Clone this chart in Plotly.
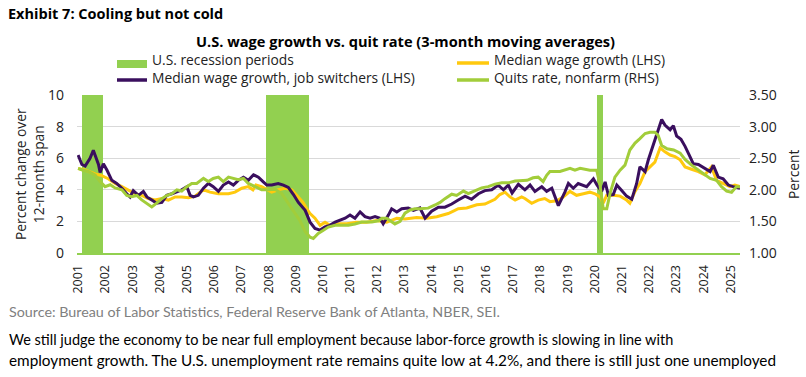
import plotly.graph_objects as go

# ---------------- data ----------------
years = list(range(2001, 2026))
year_labels = [str(y) for y in years]

recession_start = [2001.15, 2007.90, 2020.07]
recession_end = [2001.92, 2009.49, 2020.31]

switch_t = [2001.00, 2001.14, 2001.26, 2001.44, 2001.56, 2001.75, 2001.81, 2001.93, 2002.06, 2002.24,
            2002.42, 2002.61, 2002.79, 2002.91, 2003.03, 2003.22, 2003.40, 2003.53, 2003.71, 2003.89,
            2004.08, 2004.26, 2004.45, 2004.63, 2004.81, 2005.00, 2005.12, 2005.24, 2005.42, 2005.61,
            2005.79, 2005.97, 2006.16, 2006.34, 2006.53, 2006.71, 2006.89, 2007.08, 2007.26, 2007.45,
            2007.63, 2007.81, 2007.94, 2008.12, 2008.36, 2008.55, 2008.73, 2008.92, 2009.10, 2009.35,
            2009.53, 2009.71, 2009.90, 2010.08, 2010.26, 2010.45, 2010.63, 2010.82, 2011.00, 2011.18,
            2011.37, 2011.55, 2011.74, 2011.92, 2012.10, 2012.22, 2012.41, 2012.53, 2012.72, 2012.90,
            2013.14, 2013.33, 2013.57, 2013.76, 2014.00, 2014.25, 2014.49, 2014.74, 2014.98, 2015.23,
            2015.47, 2015.72, 2015.96, 2016.21, 2016.45, 2016.64, 2016.82, 2016.96, 2017.19, 2017.43,
            2017.62, 2017.80, 2018.05, 2018.23, 2018.42, 2018.54, 2018.66, 2018.90, 2019.03, 2019.21,
            2019.39, 2019.70, 2019.95, 2020.08, 2020.25, 2020.38, 2020.50, 2020.68, 2020.81, 2020.99,
            2021.17, 2021.36, 2021.54, 2021.66, 2021.85, 2021.97, 2022.09, 2022.25, 2022.46, 2022.58,
            2022.77, 2022.89, 2023.01, 2023.17, 2023.32, 2023.50, 2023.62, 2023.81, 2024.05, 2024.24,
            2024.36, 2024.54, 2024.72, 2024.91, 2025.09, 2025.34]
switch_v = [6.2, 5.6, 5.5, 6.0, 6.5, 5.6, 5.1, 5.65, 5.25, 4.6,
            4.4, 4.1, 3.75, 3.55, 3.95, 3.65, 3.9, 3.55, 3.35, 3.15,
            3.2, 3.65, 3.75, 3.85, 4.0, 4.2, 3.65, 3.55, 3.65, 4.1,
            4.4, 4.2, 3.9, 4.3, 4.5, 4.3, 4.6, 4.8, 4.6, 4.95,
            4.8, 4.5, 4.3, 4.3, 4.4, 4.3, 4.15, 3.7, 3.2, 2.7,
            1.95, 1.55, 1.45, 1.65, 1.75, 1.95, 2.05, 2.2, 2.4, 2.2,
            2.6, 2.3, 2.2, 2.3, 2.2, 1.85, 2.4, 2.8, 2.6, 2.8,
            2.85, 2.7, 2.85, 2.2, 2.65, 2.9, 2.9, 3.1, 3.35, 3.6,
            3.4, 3.75, 3.95, 4.0, 4.3, 4.0, 4.3, 3.8, 4.35, 4.0,
            4.3, 3.9, 4.2, 3.9, 4.1, 3.6, 3.0, 3.85, 4.4, 4.1,
            4.4, 4.2, 4.7, 4.3, 3.9, 4.5, 3.65, 3.7, 4.3, 3.95,
            3.6, 3.4, 4.4, 5.45, 5.15, 5.9, 6.5, 7.4, 8.45, 8.1,
            7.8, 8.05, 7.4, 7.2, 6.75, 6.1, 5.65, 5.6, 5.35, 5.15,
            5.55, 4.8, 4.7, 4.3, 4.2, 4.1]

median_t = [2001.00, 2001.26, 2001.63, 2001.87, 2002.11, 2002.36, 2002.61, 2002.85, 2003.10, 2003.34,
            2003.58, 2003.83, 2004.08, 2004.32, 2004.57, 2004.81, 2005.06, 2005.30, 2005.61, 2005.85,
            2006.16, 2006.53, 2006.77, 2007.02, 2007.26, 2007.43, 2007.54, 2007.75, 2007.94, 2008.12,
            2008.36, 2008.61, 2008.86, 2009.10, 2009.27, 2009.41, 2009.53, 2009.71, 2009.90, 2010.08,
            2010.26, 2010.57, 2010.88, 2011.24, 2011.61, 2011.98, 2012.35, 2012.72, 2013.02, 2013.45,
            2013.82, 2014.19, 2014.43, 2014.61, 2014.80, 2014.98, 2015.29, 2015.66, 2015.96, 2016.33,
            2016.51, 2016.70, 2016.88, 2017.07, 2017.31, 2017.43, 2017.68, 2017.92, 2018.16, 2018.35,
            2018.60, 2018.84, 2019.09, 2019.33, 2019.58, 2019.82, 2020.01, 2020.19, 2020.31, 2020.44,
            2020.68, 2020.93, 2021.17, 2021.29, 2021.48, 2021.66, 2021.85, 2022.03, 2022.21, 2022.40,
            2022.58, 2022.77, 2022.95, 2023.14, 2023.32, 2023.56, 2023.81, 2024.05, 2024.29, 2024.48,
            2024.72, 2024.97, 2025.15, 2025.34]
median_v = [5.35, 5.25, 5.0, 4.9, 4.7, 4.4, 4.2, 4.0, 3.75, 3.65,
            3.45, 3.35, 3.45, 3.35, 3.55, 3.55, 3.5, 3.6, 4.0, 3.85,
            3.75, 3.75, 3.85, 4.1, 4.2, 4.0, 4.3, 4.2, 4.0, 3.85,
            4.0, 4.1, 4.0, 3.55, 3.2, 2.8, 2.5, 2.2, 1.75, 1.95,
            1.75, 1.85, 1.85, 1.95, 1.95, 2.05, 1.95, 2.2, 2.15, 2.25,
            2.2, 2.3, 2.4, 2.5, 2.65, 2.8, 2.85, 3.05, 3.1, 3.4,
            3.7, 3.85, 3.55, 3.35, 3.55, 3.45, 3.15, 3.35, 3.45, 3.25,
            3.3, 3.55, 3.9, 3.65, 3.75, 3.85, 3.75, 3.55, 3.15, 3.65,
            3.65, 3.6, 3.35, 3.15, 3.9, 4.4, 5.15, 5.45, 5.75, 6.65,
            6.4, 6.2, 6.1, 5.9, 5.45, 5.3, 5.15, 4.95, 5.45, 4.6,
            4.4, 4.2, 4.3, 4.2]

quits_t = [2001.00, 2001.18, 2001.38, 2001.63, 2001.81, 2001.99, 2002.18, 2002.36, 2002.61, 2002.79,
           2002.97, 2003.16, 2003.34, 2003.53, 2003.71, 2003.89, 2004.08, 2004.26, 2004.45, 2004.63,
           2004.81, 2005.00, 2005.18, 2005.36, 2005.61, 2005.79, 2005.97, 2006.16, 2006.34, 2006.53,
           2006.71, 2006.89, 2007.08, 2007.26, 2007.51, 2007.75, 2008.00, 2008.24, 2008.49, 2008.73,
           2008.98, 2009.16, 2009.35, 2009.53, 2009.65, 2009.83, 2010.02, 2010.20, 2010.45, 2010.69,
           2010.94, 2011.18, 2011.43, 2011.61, 2011.80, 2012.04, 2012.17, 2012.35, 2012.53, 2012.65,
           2012.84, 2013.02, 2013.21, 2013.39, 2013.57, 2013.87, 2014.13, 2014.31, 2014.49, 2014.74,
           2014.92, 2015.17, 2015.35, 2015.60, 2015.84, 2016.08, 2016.33, 2016.58, 2016.82, 2017.07,
           2017.31, 2017.51, 2017.73, 2017.92, 2018.10, 2018.23, 2018.35, 2018.72, 2019.09, 2019.27,
           2019.46, 2019.82, 2020.07, 2020.19, 2020.31, 2020.44, 2020.56, 2020.74, 2020.93, 2021.11,
           2021.29, 2021.48, 2021.66, 2021.85, 2022.03, 2022.21, 2022.33, 2022.46, 2022.66, 2022.90,
           2023.14, 2023.32, 2023.56, 2023.81, 2024.05, 2024.24, 2024.48, 2024.66, 2024.85, 2025.03,
           2025.21, 2025.34]
quits_v = [2.34, 2.31, 2.29, 2.23, 2.13, 2.05, 2.08, 2.03, 2.00, 1.91,
           1.89, 1.91, 1.84, 1.79, 1.73, 1.79, 1.86, 1.91, 1.94, 2.00,
           1.98, 2.05, 2.10, 2.10, 2.18, 2.13, 2.18, 2.20, 2.13, 2.20,
           2.18, 2.16, 2.18, 2.10, 2.05, 2.00, 2.00, 2.01, 1.94, 1.79,
           1.63, 1.51, 1.34, 1.25, 1.23, 1.31, 1.36, 1.41, 1.44, 1.44,
           1.44, 1.46, 1.49, 1.49, 1.49, 1.51, 1.55, 1.55, 1.49, 1.46,
           1.50, 1.63, 1.68, 1.70, 1.70, 1.71, 1.76, 1.80, 1.86, 1.93,
           1.91, 1.98, 1.94, 1.99, 2.03, 2.05, 2.09, 2.11, 2.11, 2.14,
           2.14, 2.15, 2.19, 2.20, 2.13, 2.23, 2.29, 2.29, 2.34, 2.31,
           2.34, 2.31, 2.31, 2.08, 1.70, 1.70, 1.94, 2.20, 2.31, 2.39,
           2.63, 2.74, 2.81, 2.89, 2.91, 2.91, 2.86, 2.70, 2.65, 2.63,
           2.58, 2.48, 2.39, 2.31, 2.24, 2.18, 2.15, 2.05, 1.98, 1.96,
           2.05, 2.05]

# ---------------- styling ----------------
REC_GREEN = "#92D050"
QUIT_GREEN = "#A2CD3A"
YELLOW = "#FFC90E"
PURPLE = "#3A0F5E"
FONT = "Open Sans"
NARROW = "Liberation Sans Narrow, Lato"
W, H = 806, 377
L, R, T, B = 77, 740, 95, 253


def px(x):
    return (x - L) / (R - L)


def py(y):
    return (B - y) / (B - T)


rec_mid = [(s + e) / 2 for s, e in zip(recession_start, recession_end)]
rec_w = [e - s for s, e in zip(recession_start, recession_end)]

fig = go.Figure()
fig.add_trace(go.Bar(x=rec_mid, y=[10] * len(rec_mid), width=rec_w,
                     marker=dict(color=REC_GREEN, line=dict(width=0)),
                     name="U.S. recession periods", showlegend=False, hoverinfo="skip"))
fig.add_trace(go.Scatter(x=median_t, y=median_v, mode="lines",
                         line=dict(color=YELLOW, width=3), name="Median wage growth (LHS)",
                         showlegend=False))
fig.add_trace(go.Scatter(x=switch_t, y=switch_v, mode="lines",
                         line=dict(color=PURPLE, width=3), name="Median wage growth, job switchers (LHS)",
                         showlegend=False))
fig.add_trace(go.Scatter(x=quits_t, y=quits_v, mode="lines", yaxis="y2",
                         line=dict(color=QUIT_GREEN, width=3), name="Quits rate, nonfarm (RHS)",
                         showlegend=False))

fig.update_layout(
    width=W, height=H,
    margin=dict(l=L, r=W - R, t=T, b=H - B, pad=0),
    paper_bgcolor="white", plot_bgcolor="white",
    font=dict(family=FONT, size=13, color="#222222"),
    bargap=0,
    xaxis=dict(range=[2000.96, 2025.34], tickvals=years, ticktext=year_labels,
               tickangle=-90, showgrid=False, zeroline=False, ticks="",
               showline=True, linecolor=REC_GREEN, linewidth=2, ticklabelstandoff=5,
               tickfont=dict(size=12.5, color="#222222")),
    yaxis=dict(range=[0, 10], dtick=2, showgrid=True, gridcolor="#D9D9D9", gridwidth=1,
               zeroline=False, ticks="", tickfont=dict(size=14, color="#222222"),
               showline=False, ticklabelstandoff=12),
    yaxis2=dict(range=[1, 3.5], dtick=0.5, tickformat=".2f", overlaying="y", side="right",
                showgrid=False, zeroline=False, ticks="", tickfont=dict(size=14, color="#222222"),
                showline=False, ticklabelstandoff=8),
)

ann = []
ann.append(dict(text="<b>Exhibit 7: Cooling but not cold</b>", x=px(6), y=py(14),
                xanchor="left", yanchor="middle", font=dict(size=14.5, color="black")))
ann.append(dict(text="<b>U.S. wage growth vs. quit rate (3-month moving averages)</b>",
                x=px(405), y=py(41), xanchor="center", yanchor="middle",
                font=dict(size=14.6, color="black")))
ann.append(dict(text="Percent change over<br>12-month span", x=px(29), y=py(174),
                xanchor="center", yanchor="middle", textangle=-90,
                font=dict(size=13.8, color="#222222")))
ann.append(dict(text="Percent", x=px(793), y=py(174), xanchor="center", yanchor="middle",
                textangle=-90, font=dict(size=13.8, color="#222222")))
ann.append(dict(text="Source: Bureau of Labor Statistics, Federal Reserve Bank of Atlanta, NBER, SEI.",
                x=px(7), y=py(311), xanchor="left", yanchor="middle",
                font=dict(family=NARROW, size=14.3, color="#808080")))
ann.append(dict(text="We still judge the economy to be near full employment because labor-force growth is slowing in line with",
                x=px(7), y=py(339), xanchor="left", yanchor="middle",
                font=dict(family=NARROW, size=14.5, color="black")))
ann.append(dict(text="employment growth. The U.S. unemployment rate remains quite low at 4.2%, and there is still just one unemployed",
                x=px(7), y=py(360), xanchor="left", yanchor="middle",
                font=dict(family=NARROW, size=15.3, color="black")))

legend_items = [
    ("U.S. recession periods", 117, 147, 60, "rect", REC_GREEN),
    ("Median wage growth, job switchers (LHS)", 117, 147, 77, "line", PURPLE),
    ("Median wage growth (LHS)", 457, 489, 60, "line", YELLOW),
    ("Quits rate, nonfarm (RHS)", 457, 489, 77, "line", QUIT_GREEN),
]
shapes = []
for label, x0, x1, yc, kind, col in legend_items:
    if kind == "rect":
        shapes.append(dict(type="rect", xref="paper", yref="paper", x0=px(x0), x1=px(x1),
                           y0=py(yc + 8), y1=py(yc), fillcolor=col, line=dict(width=0)))
    else:
        shapes.append(dict(type="line", xref="paper", yref="paper", x0=px(x0), x1=px(x1),
                           y0=py(yc + 3), y1=py(yc + 3), line=dict(color=col, width=3.5)))
    ann.append(dict(text=label, x=px(x1 + 3), y=py(yc), xanchor="left", yanchor="middle",
                    font=dict(size=13.8, color="#222222")))

for a in ann:
    a.update(xref="paper", yref="paper", showarrow=False)
fig.update_layout(annotations=ann, shapes=shapes)

fig.write_html("out.html", config={"displayModeBar": False},
               post_script="document.body.style.margin='0px';document.body.style.overflow='hidden';")
